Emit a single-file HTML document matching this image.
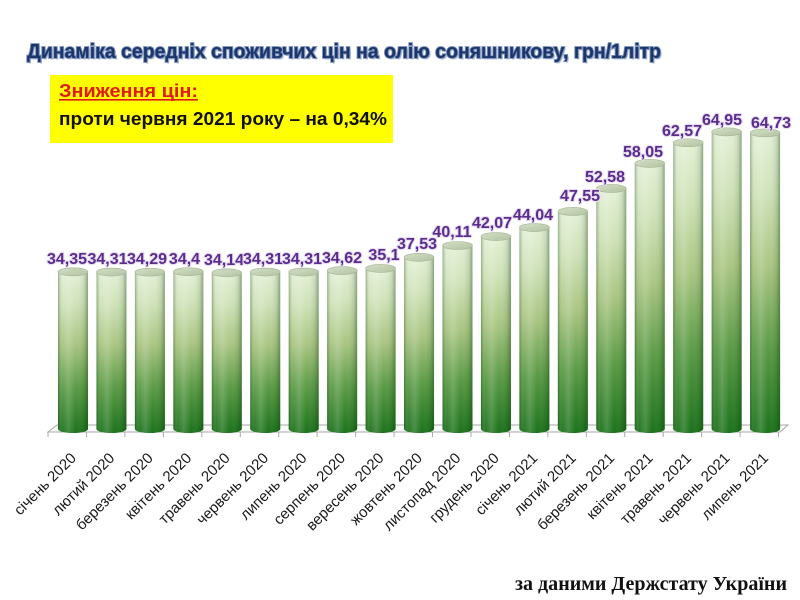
<!DOCTYPE html>
<html><head><meta charset="utf-8"><style>
html,body{margin:0;padding:0;background:#fff;}
svg{display:block;}
</style></head><body>
<svg width="800" height="600" viewBox="0 0 800 600" xmlns="http://www.w3.org/2000/svg">
<defs>
<linearGradient id="gv" x1="0" y1="0" x2="0" y2="1">
<stop offset="0" stop-color="#e4f0d6"/>
<stop offset="0.2" stop-color="#cfe2b8"/>
<stop offset="0.45" stop-color="#a9c582"/>
<stop offset="0.72" stop-color="#5a9a45"/>
<stop offset="1" stop-color="#1b721b"/>
</linearGradient>
<linearGradient id="gh" x1="0" y1="0" x2="1" y2="0">
<stop offset="0" stop-color="#0c3a0c" stop-opacity="0.35"/>
<stop offset="0.15" stop-color="#ffffff" stop-opacity="0.05"/>
<stop offset="0.35" stop-color="#ffffff" stop-opacity="0.18"/>
<stop offset="0.6" stop-color="#ffffff" stop-opacity="0"/>
<stop offset="0.88" stop-color="#0c3a0c" stop-opacity="0.12"/>
<stop offset="1" stop-color="#0c3a0c" stop-opacity="0.4"/>
</linearGradient>
<linearGradient id="gt" x1="0" y1="0" x2="1" y2="1">
<stop offset="0" stop-color="#d4dfc6"/>
<stop offset="1" stop-color="#b3c3a2"/>
</linearGradient>
</defs>

<!-- Title -->
<text x="28.5" y="59.5" font-family="Liberation Sans, sans-serif" font-weight="bold" font-size="20" textLength="634" lengthAdjust="spacingAndGlyphs" fill="#b8c2d6">Динаміка середніх споживчих цін на олію соняшникову, грн/1літр</text>
<text x="27" y="58" font-family="Liberation Sans, sans-serif" font-weight="bold" font-size="20" textLength="634" lengthAdjust="spacingAndGlyphs" fill="#1c3669" stroke="#7a90bd" stroke-width="1.8" paint-order="stroke">Динаміка середніх споживчих цін на олію соняшникову, грн/1літр</text>

<!-- Yellow box -->
<rect x="50" y="75" width="343" height="68" fill="#ffff00"/>
<text x="59" y="97" font-family="Liberation Sans, sans-serif" font-weight="bold" font-size="18" textLength="139" lengthAdjust="spacingAndGlyphs" fill="#e0191b">Зниження цін:</text>
<rect x="59" y="99" width="139" height="1.6" fill="#e0191b"/>
<text x="59" y="125" font-family="Liberation Sans, sans-serif" font-weight="bold" font-size="18" textLength="328" lengthAdjust="spacingAndGlyphs" fill="#111">проти червня 2021 року – на 0,34%</text>

<!-- Floor -->
<polygon points="48,432 780,432 788,425 57,425" fill="#fafafa" stroke="#a8a8a8" stroke-width="1"/>
<g stroke="#a8a8a8" stroke-width="1">
<line x1="48" y1="432" x2="48" y2="437"/>
<line x1="86.45" y1="432" x2="86.45" y2="437"/>
<line x1="124.9" y1="432" x2="124.9" y2="437"/>
<line x1="163.35" y1="432" x2="163.35" y2="437"/>
<line x1="201.8" y1="432" x2="201.8" y2="437"/>
<line x1="240.25" y1="432" x2="240.25" y2="437"/>
<line x1="278.7" y1="432" x2="278.7" y2="437"/>
<line x1="317.15" y1="432" x2="317.15" y2="437"/>
<line x1="355.6" y1="432" x2="355.6" y2="437"/>
<line x1="394.05" y1="432" x2="394.05" y2="437"/>
<line x1="432.5" y1="432" x2="432.5" y2="437"/>
<line x1="470.95" y1="432" x2="470.95" y2="437"/>
<line x1="509.4" y1="432" x2="509.4" y2="437"/>
<line x1="547.85" y1="432" x2="547.85" y2="437"/>
<line x1="586.3" y1="432" x2="586.3" y2="437"/>
<line x1="624.75" y1="432" x2="624.75" y2="437"/>
<line x1="663.2" y1="432" x2="663.2" y2="437"/>
<line x1="701.65" y1="432" x2="701.65" y2="437"/>
<line x1="740.1" y1="432" x2="740.1" y2="437"/>
<line x1="778.5" y1="432" x2="778.5" y2="437"/>
</g>

<!-- Bars -->
<g>
<path d="M58,271.85 L58,429 A15,4 0 0 0 88,429 L88,271.85 Z" fill="url(#gv)"/><path d="M58,271.85 L58,429 A15,4 0 0 0 88,429 L88,271.85 Z" fill="url(#gh)"/><ellipse cx="73" cy="271.85" rx="15" ry="4" fill="url(#gt)" stroke="#a3b393" stroke-width="0.6"/>
<path d="M96.45,272.03 L96.45,429 A15,4 0 0 0 126.45,429 L126.45,272.03 Z" fill="url(#gv)"/><path d="M96.45,272.03 L96.45,429 A15,4 0 0 0 126.45,429 L126.45,272.03 Z" fill="url(#gh)"/><ellipse cx="111.45" cy="272.03" rx="15" ry="4" fill="url(#gt)" stroke="#a3b393" stroke-width="0.6"/>
<path d="M134.9,272.12 L134.9,429 A15,4 0 0 0 164.9,429 L164.9,272.12 Z" fill="url(#gv)"/><path d="M134.9,272.12 L134.9,429 A15,4 0 0 0 164.9,429 L164.9,272.12 Z" fill="url(#gh)"/><ellipse cx="149.9" cy="272.12" rx="15" ry="4" fill="url(#gt)" stroke="#a3b393" stroke-width="0.6"/>
<path d="M173.35,271.62 L173.35,429 A15,4 0 0 0 203.35,429 L203.35,271.62 Z" fill="url(#gv)"/><path d="M173.35,271.62 L173.35,429 A15,4 0 0 0 203.35,429 L203.35,271.62 Z" fill="url(#gh)"/><ellipse cx="188.35" cy="271.62" rx="15" ry="4" fill="url(#gt)" stroke="#a3b393" stroke-width="0.6"/>
<path d="M211.8,272.81 L211.8,429 A15,4 0 0 0 241.8,429 L241.8,272.81 Z" fill="url(#gv)"/><path d="M211.8,272.81 L211.8,429 A15,4 0 0 0 241.8,429 L241.8,272.81 Z" fill="url(#gh)"/><ellipse cx="226.8" cy="272.81" rx="15" ry="4" fill="url(#gt)" stroke="#a3b393" stroke-width="0.6"/>
<path d="M250.25,272.03 L250.25,429 A15,4 0 0 0 280.25,429 L280.25,272.03 Z" fill="url(#gv)"/><path d="M250.25,272.03 L250.25,429 A15,4 0 0 0 280.25,429 L280.25,272.03 Z" fill="url(#gh)"/><ellipse cx="265.25" cy="272.03" rx="15" ry="4" fill="url(#gt)" stroke="#a3b393" stroke-width="0.6"/>
<path d="M288.7,272.03 L288.7,429 A15,4 0 0 0 318.7,429 L318.7,272.03 Z" fill="url(#gv)"/><path d="M288.7,272.03 L288.7,429 A15,4 0 0 0 318.7,429 L318.7,272.03 Z" fill="url(#gh)"/><ellipse cx="303.7" cy="272.03" rx="15" ry="4" fill="url(#gt)" stroke="#a3b393" stroke-width="0.6"/>
<path d="M327.15,270.61 L327.15,429 A15,4 0 0 0 357.15,429 L357.15,270.61 Z" fill="url(#gv)"/><path d="M327.15,270.61 L327.15,429 A15,4 0 0 0 357.15,429 L357.15,270.61 Z" fill="url(#gh)"/><ellipse cx="342.15" cy="270.61" rx="15" ry="4" fill="url(#gt)" stroke="#a3b393" stroke-width="0.6"/>
<path d="M365.6,268.42 L365.6,429 A15,4 0 0 0 395.6,429 L395.6,268.42 Z" fill="url(#gv)"/><path d="M365.6,268.42 L365.6,429 A15,4 0 0 0 395.6,429 L395.6,268.42 Z" fill="url(#gh)"/><ellipse cx="380.6" cy="268.42" rx="15" ry="4" fill="url(#gt)" stroke="#a3b393" stroke-width="0.6"/>
<path d="M404.05,257.3 L404.05,429 A15,4 0 0 0 434.05,429 L434.05,257.3 Z" fill="url(#gv)"/><path d="M404.05,257.3 L404.05,429 A15,4 0 0 0 434.05,429 L434.05,257.3 Z" fill="url(#gh)"/><ellipse cx="419.05" cy="257.3" rx="15" ry="4" fill="url(#gt)" stroke="#a3b393" stroke-width="0.6"/>
<path d="M442.5,245.5 L442.5,429 A15,4 0 0 0 472.5,429 L472.5,245.5 Z" fill="url(#gv)"/><path d="M442.5,245.5 L442.5,429 A15,4 0 0 0 472.5,429 L472.5,245.5 Z" fill="url(#gh)"/><ellipse cx="457.5" cy="245.5" rx="15" ry="4" fill="url(#gt)" stroke="#a3b393" stroke-width="0.6"/>
<path d="M480.95,236.53 L480.95,429 A15,4 0 0 0 510.95,429 L510.95,236.53 Z" fill="url(#gv)"/><path d="M480.95,236.53 L480.95,429 A15,4 0 0 0 510.95,429 L510.95,236.53 Z" fill="url(#gh)"/><ellipse cx="495.95" cy="236.53" rx="15" ry="4" fill="url(#gt)" stroke="#a3b393" stroke-width="0.6"/>
<path d="M519.4,227.52 L519.4,429 A15,4 0 0 0 549.4,429 L549.4,227.52 Z" fill="url(#gv)"/><path d="M519.4,227.52 L519.4,429 A15,4 0 0 0 549.4,429 L549.4,227.52 Z" fill="url(#gh)"/><ellipse cx="534.4" cy="227.52" rx="15" ry="4" fill="url(#gt)" stroke="#a3b393" stroke-width="0.6"/>
<path d="M557.85,211.46 L557.85,429 A15,4 0 0 0 587.85,429 L587.85,211.46 Z" fill="url(#gv)"/><path d="M557.85,211.46 L557.85,429 A15,4 0 0 0 587.85,429 L587.85,211.46 Z" fill="url(#gh)"/><ellipse cx="572.85" cy="211.46" rx="15" ry="4" fill="url(#gt)" stroke="#a3b393" stroke-width="0.6"/>
<path d="M596.3,188.45 L596.3,429 A15,4 0 0 0 626.3,429 L626.3,188.45 Z" fill="url(#gv)"/><path d="M596.3,188.45 L596.3,429 A15,4 0 0 0 626.3,429 L626.3,188.45 Z" fill="url(#gh)"/><ellipse cx="611.3" cy="188.45" rx="15" ry="4" fill="url(#gt)" stroke="#a3b393" stroke-width="0.6"/>
<path d="M634.75,163.42 L634.75,429 A15,4 0 0 0 664.75,429 L664.75,163.42 Z" fill="url(#gv)"/><path d="M634.75,163.42 L634.75,429 A15,4 0 0 0 664.75,429 L664.75,163.42 Z" fill="url(#gh)"/><ellipse cx="649.75" cy="163.42" rx="15" ry="4" fill="url(#gt)" stroke="#a3b393" stroke-width="0.6"/>
<path d="M673.2,142.74 L673.2,429 A15,4 0 0 0 703.2,429 L703.2,142.74 Z" fill="url(#gv)"/><path d="M673.2,142.74 L673.2,429 A15,4 0 0 0 703.2,429 L703.2,142.74 Z" fill="url(#gh)"/><ellipse cx="688.2" cy="142.74" rx="15" ry="4" fill="url(#gt)" stroke="#a3b393" stroke-width="0.6"/>
<path d="M711.65,131.85 L711.65,429 A15,4 0 0 0 741.65,429 L741.65,131.85 Z" fill="url(#gv)"/><path d="M711.65,131.85 L711.65,429 A15,4 0 0 0 741.65,429 L741.65,131.85 Z" fill="url(#gh)"/><ellipse cx="726.65" cy="131.85" rx="15" ry="4" fill="url(#gt)" stroke="#a3b393" stroke-width="0.6"/>
<path d="M750.1,132.86 L750.1,429 A15,4 0 0 0 780.1,429 L780.1,132.86 Z" fill="url(#gv)"/><path d="M750.1,132.86 L750.1,429 A15,4 0 0 0 780.1,429 L780.1,132.86 Z" fill="url(#gh)"/><ellipse cx="765.1" cy="132.86" rx="15" ry="4" fill="url(#gt)" stroke="#a3b393" stroke-width="0.6"/>
</g>

<!-- Value labels -->
<g font-family="Liberation Sans, sans-serif" font-weight="bold" font-size="16" text-anchor="middle" fill="#5b2c8e" stroke="#e6def0" stroke-width="2.2" paint-order="stroke" stroke-linejoin="round">
<text x="67" y="264">34,35</text>
<text x="107.5" y="264">34,31</text>
<text x="147" y="264">34,29</text>
<text x="184.5" y="264">34,4</text>
<text x="224" y="265">34,14</text>
<text x="263" y="264">34,31</text>
<text x="302" y="264">34,31</text>
<text x="342" y="263">34,62</text>
<text x="384" y="260">35,1</text>
<text x="417" y="249">37,53</text>
<text x="452" y="237">40,11</text>
<text x="492" y="228">42,07</text>
<text x="533" y="220">44,04</text>
<text x="580" y="201">47,55</text>
<text x="605" y="182">52,58</text>
<text x="643" y="157">58,05</text>
<text x="682" y="136">62,57</text>
<text x="722" y="125">64,95</text>
<text x="771" y="128">64,73</text>
</g>

<!-- Category labels -->
<g font-family="Liberation Sans, sans-serif" font-size="15" text-anchor="end" fill="#1a1a1a">
<text transform="translate(77,459) rotate(-45)">січень 2020</text>
<text transform="translate(115.45,459) rotate(-45)">лютий 2020</text>
<text transform="translate(153.9,459) rotate(-45)">березень 2020</text>
<text transform="translate(192.35,459) rotate(-45)">квітень 2020</text>
<text transform="translate(230.8,459) rotate(-45)">травень 2020</text>
<text transform="translate(269.25,459) rotate(-45)">червень 2020</text>
<text transform="translate(307.7,459) rotate(-45)">липень 2020</text>
<text transform="translate(346.15,459) rotate(-45)">серпень 2020</text>
<text transform="translate(384.6,459) rotate(-45)">вересень 2020</text>
<text transform="translate(423.05,459) rotate(-45)">жовтень 2020</text>
<text transform="translate(461.5,459) rotate(-45)">листопад 2020</text>
<text transform="translate(499.95,459) rotate(-45)">грудень 2020</text>
<text transform="translate(538.4,459) rotate(-45)">січень 2021</text>
<text transform="translate(576.85,459) rotate(-45)">лютий 2021</text>
<text transform="translate(615.3,459) rotate(-45)">березень 2021</text>
<text transform="translate(653.75,459) rotate(-45)">квітень 2021</text>
<text transform="translate(692.2,459) rotate(-45)">травень 2021</text>
<text transform="translate(730.65,459) rotate(-45)">червень 2021</text>
<text transform="translate(769.1,459) rotate(-45)">липень 2021</text>
</g>

<!-- Footer -->
<text x="515" y="590" font-family="Liberation Serif, serif" font-weight="bold" font-size="20" textLength="272" lengthAdjust="spacingAndGlyphs" fill="#111">за даними Держстату України</text>
</svg>
</body></html>
